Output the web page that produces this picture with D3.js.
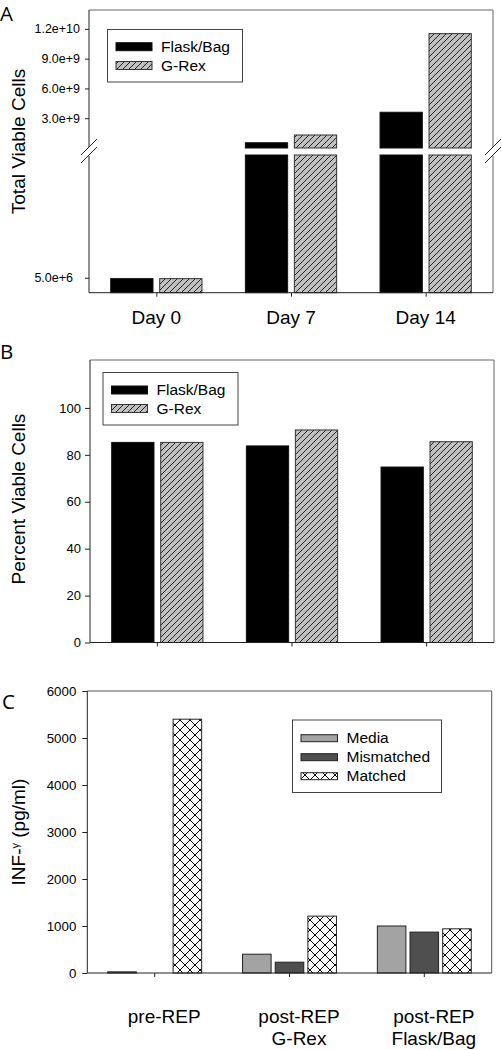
<!DOCTYPE html>
<html>
<head>
<meta charset="utf-8">
<script src="https://cdn.jsdelivr.net/npm/d3@7"></script>
<style>
  html, body { margin: 0; padding: 0; background: #fff; }
  svg { display: block; }
  text { font-family: "Liberation Sans", Arial, sans-serif; fill: #000; }
</style>
</head>
<body>
<svg id="chart" width="502" height="1050"></svg>
<script>
// ---------- DATA ----------
const daysA = ["Day 0", "Day 7", "Day 14"];
const seriesAB = ["Flask/Bag", "G-Rex"];
const flaskTotal = [4.7e6, 0.53e9, 3.6e9];
const grexTotal = [4.7e6, 1.31e9, 11.52e9];
const upperTicksA = [3e9, 6e9, 9e9, 1.2e10];
const lowerTicksA = [5e6];

const flaskPct = [85.3, 83.8, 74.8];
const grexPct = [85.3, 90.6, 85.6];
const pctTicks = [0, 20, 40, 60, 80, 100];

const groupsC = ["pre-REP", "post-REP G-Rex", "post-REP Flask/Bag"];
const groupLinesC = [["pre-REP"], ["post-REP", "G-Rex"], ["post-REP", "Flask/Bag"]];
const seriesC = ["Media", "Mismatched", "Matched"];
const mediaC = [25, 400, 1000];
const mismatchedC = [0, 230, 870];
const matchedC = [5400, 1210, 940];
const infTicks = [0, 1000, 2000, 3000, 4000, 5000, 6000];

// ---------- SETUP ----------
const svg = d3.select("#chart");
const defs = svg.append("defs");

const hatch = defs.append("pattern").attr("id", "hatch")
  .attr("patternUnits", "userSpaceOnUse").attr("width", 6).attr("height", 6);
hatch.append("rect").attr("width", 6).attr("height", 6).attr("fill", "#c0c0c0");
hatch.append("path").attr("d", "M0,6 L6,0 M-1,1 L1,-1 M5,7 L7,5")
  .attr("stroke", "#111").attr("stroke-width", 0.9);

const cross = defs.append("pattern").attr("id", "cross")
  .attr("patternUnits", "userSpaceOnUse").attr("width", 10).attr("height", 10);
cross.append("rect").attr("width", 10).attr("height", 10).attr("fill", "#fff");
cross.append("path").attr("d", "M0,0 L10,10 M10,0 L0,10")
  .attr("stroke", "#000").attr("stroke-width", 1);

const fillAB = d3.scaleOrdinal().domain(seriesAB).range(["#000", "url(#hatch)"]);
const strokeAB = d3.scaleOrdinal().domain(seriesAB).range(["#111", "#333"]);
const fillC = d3.scaleOrdinal().domain(seriesC).range(["#a3a3a3", "#4f4f4f", "url(#cross)"]);

function panelLetter(txt, x, y) {
  svg.append("text").attr("x", x).attr("y", y).text(txt)
    .style("font-family", "'Open Sans', sans-serif").style("font-size", "20.5px");
}
function yTitle(x, y, build) {
  const t = svg.append("text")
    .attr("transform", `translate(${x},${y}) rotate(-90)`)
    .attr("text-anchor", "middle").style("font-size", "19px");
  build(t);
}
function frameLine(x1, y1, x2, y2, color) {
  svg.append("line").attr("x1", x1).attr("y1", y1).attr("x2", x2).attr("y2", y2)
    .attr("stroke", color).attr("stroke-width", 1);
}
function styleAxis(g, fs) {
  g.select(".domain").remove();
  g.selectAll(".tick line").attr("stroke", "#222");
  g.selectAll(".tick text").style("font-size", fs).style("font-family", "'Liberation Sans', Arial, sans-serif").attr("fill", "#000");
}
function legend(x, y, w, h, items, fillFn, strokeFn, rowY, swW, swH) {
  const g = svg.append("g");
  g.append("rect").attr("x", x).attr("y", y).attr("width", w).attr("height", h)
    .attr("fill", "#fff").attr("stroke", "#444").attr("stroke-width", 1);
  items.forEach((s, i) => {
    g.append("rect").attr("x", x + 8.5).attr("y", rowY[i] - swH - 1).attr("width", swW).attr("height", swH)
      .attr("fill", fillFn(s)).attr("stroke", strokeFn(s)).attr("stroke-width", 1);
    g.append("text").attr("x", x + 8.5 + swW + 9).attr("y", rowY[i]).text(s).style("font-size", "15.5px");
  });
}

// ---------- PANEL A ----------
(function () {
  const L = 89, R = 493, T = 10, B = 292.7;
  const upperBottom = 148, lowerTop = 155;
  const yU = d3.scaleLinear().domain([0, 1.39e10]).range([upperBottom, T]);
  const yL = d3.scaleLinear().domain([0, 4.6e7]).range([B, lowerTop]);
  const x0 = d3.scaleBand().domain(daysA).range([L, R]).padding(0);
  const x1 = d3.scaleBand().domain(seriesAB).range([0, x0.bandwidth()]).paddingInner(0.137).paddingOuter(0.443);
  const breakVal = yL.domain()[1];

  const data = daysA.map((d, i) => ({ day: d, vals: [flaskTotal[i], grexTotal[i]] }));
  const gBars = svg.append("g");
  data.forEach(d => {
    d.vals.forEach((v, j) => {
      const s = seriesAB[j];
      const x = x0(d.day) + x1(s);
      if (v <= breakVal) {
        gBars.append("rect").attr("x", x).attr("width", x1.bandwidth())
          .attr("y", yL(v)).attr("height", B - yL(v))
          .attr("fill", fillAB(s)).attr("stroke", strokeAB(s)).attr("stroke-width", 1);
      } else {
        gBars.append("rect").attr("x", x).attr("width", x1.bandwidth())
          .attr("y", lowerTop).attr("height", B - lowerTop)
          .attr("fill", fillAB(s)).attr("stroke", strokeAB(s)).attr("stroke-width", 1);
        gBars.append("rect").attr("x", x).attr("width", x1.bandwidth())
          .attr("y", yU(v)).attr("height", upperBottom - yU(v))
          .attr("fill", fillAB(s)).attr("stroke", strokeAB(s)).attr("stroke-width", 1);
      }
    });
  });

  // frame
  frameLine(L, T, R, T, "#666");
  frameLine(R, T, R, upperBottom - 1, "#666");
  frameLine(R, lowerTop + 1, R, B, "#666");
  frameLine(L, T, L, upperBottom - 1, "#222");
  frameLine(L, lowerTop + 1, L, B, "#222");
  frameLine(L, B, R, B, "#222");
  // break marks
  [L, R].forEach(bx => {
    frameLine(bx - 8, 155, bx + 8, 139, "#222");
    frameLine(bx - 8, 163, bx + 8, 147, "#222");
  });

  const fmt = d => d.toExponential(1);
  const ga = svg.append("g").attr("transform", `translate(${L},0)`)
    .call(d3.axisLeft(yU).tickValues(upperTicksA).tickSize(4).tickPadding(5).tickFormat(fmt));
  styleAxis(ga, "12.5px");
  const gl = svg.append("g").attr("transform", `translate(${L},0)`)
    .call(d3.axisLeft(yL).tickValues(lowerTicksA).tickSize(4).tickPadding(12).tickFormat(fmt));
  styleAxis(gl, "12.5px");
  const gx = svg.append("g").attr("transform", `translate(0,${B})`)
    .call(d3.axisBottom(x0).tickSize(4).tickPadding(14));
  styleAxis(gx, "19px");
  gx.selectAll(".tick line").attr("transform", "translate(0.5,0)");

  legend(107.5, 29.5, 135, 52.5, seriesAB, fillAB, strokeAB, [51.7, 70.5], 36, 8);
  yTitle(25, 141.5, t => t.text("Total Viable Cells"));
  panelLetter("A", 0, 21);
})();

// ---------- PANEL B ----------
(function () {
  const L = 90, R = 494, T = 360, B = 642.5;
  const y = d3.scaleLinear().domain([0, 120]).range([B, 361]);
  const x0 = d3.scaleBand().domain(daysA).range([L, R]).padding(0);
  const x1 = d3.scaleBand().domain(seriesAB).range([0, x0.bandwidth()]).paddingInner(0.137).paddingOuter(0.443);
  const data = daysA.map((d, i) => ({ day: d, vals: [flaskPct[i], grexPct[i]] }));
  const g = svg.append("g");
  data.forEach(d => {
    d.vals.forEach((v, j) => {
      const s = seriesAB[j];
      g.append("rect").attr("x", x0(d.day) + x1(s)).attr("width", x1.bandwidth())
        .attr("y", y(v)).attr("height", B - y(v))
        .attr("fill", fillAB(s)).attr("stroke", strokeAB(s)).attr("stroke-width", 1);
    });
  });
  frameLine(L, T, R, T, "#666");
  frameLine(R, T, R, B, "#666");
  frameLine(L, T, L, B, "#222");
  frameLine(L, B, R, B, "#222");

  const ga = svg.append("g").attr("transform", `translate(${L},0)`)
    .call(d3.axisLeft(y).tickValues(pctTicks).tickSize(5).tickPadding(4).tickFormat(d3.format("d")));
  styleAxis(ga, "13px");
  const gx = svg.append("g").attr("transform", `translate(0,${B})`)
    .call(d3.axisBottom(x0).tickSize(4).tickFormat(""));
  styleAxis(gx, "13px");

  legend(103, 372.5, 135, 52.5, seriesAB, fillAB, strokeAB, [395, 413.5], 36, 8);
  yTitle(25, 499, t => t.text("Percent Viable Cells"));
  panelLetter("B", 0, 359);
})();

// ---------- PANEL C ----------
(function () {
  const L = 87.3, R = 491.7, T = 691, B = 973;
  const y = d3.scaleLinear().domain([0, 6000]).range([B, T]);
  const x0 = d3.scaleBand().domain(groupsC).range([L, R]).padding(0);
  const x1 = d3.scaleBand().domain(seriesC).range([0, x0.bandwidth()]).paddingInner(0.126).paddingOuter(0.626);
  const data = groupsC.map((gname, i) => ({ g: gname, vals: [mediaC[i], mismatchedC[i], matchedC[i]] }));
  const gb = svg.append("g");
  data.forEach(d => {
    d.vals.forEach((v, j) => {
      if (v <= 0) return;
      const s = seriesC[j];
      gb.append("rect").attr("x", x0(d.g) + x1(s)).attr("width", x1.bandwidth())
        .attr("y", y(v)).attr("height", B - y(v))
        .attr("fill", fillC(s)).attr("stroke", "#222").attr("stroke-width", 1);
    });
  });
  frameLine(L, T, R, T, "#555");
  frameLine(R, T, R, B, "#555");
  frameLine(L, T, L, B, "#222");
  frameLine(L, B, R, B, "#222");

  const ga = svg.append("g").attr("transform", `translate(${L},0)`)
    .call(d3.axisLeft(y).tickValues(infTicks).tickSize(5).tickPadding(6).tickFormat(d3.format("d")));
  styleAxis(ga, "13.3px");
  const gx = svg.append("g").attr("transform", `translate(0,${B})`)
    .call(d3.axisBottom(x0).tickSize(4).tickFormat(""));
  styleAxis(gx, "13px");

  // category labels (two lines)
  groupsC.forEach((gname, i) => {
    const cx = x0(gname) + x0.bandwidth() / 2 + 9.5;
    groupLinesC[i].forEach((line, k) => {
      svg.append("text").attr("x", cx).attr("y", 1023.3 + k * 21.7)
        .attr("text-anchor", "middle").style("font-size", "19px").text(line);
    });
  });

  legend(292.5, 720, 149, 72.5, seriesC, fillC, () => "#222", [742.7, 761.7, 780.7], 36.5, 7);
  yTitle(25, 832, t => {
    t.append("tspan").text("INF-");
    t.append("tspan").attr("dy", -6).style("font-size", "11px").text("γ");
    t.append("tspan").attr("dy", 6).text(" (pg/ml)");
  });
  panelLetter("C", 2, 709);
})();
</script>
</body>
</html>
